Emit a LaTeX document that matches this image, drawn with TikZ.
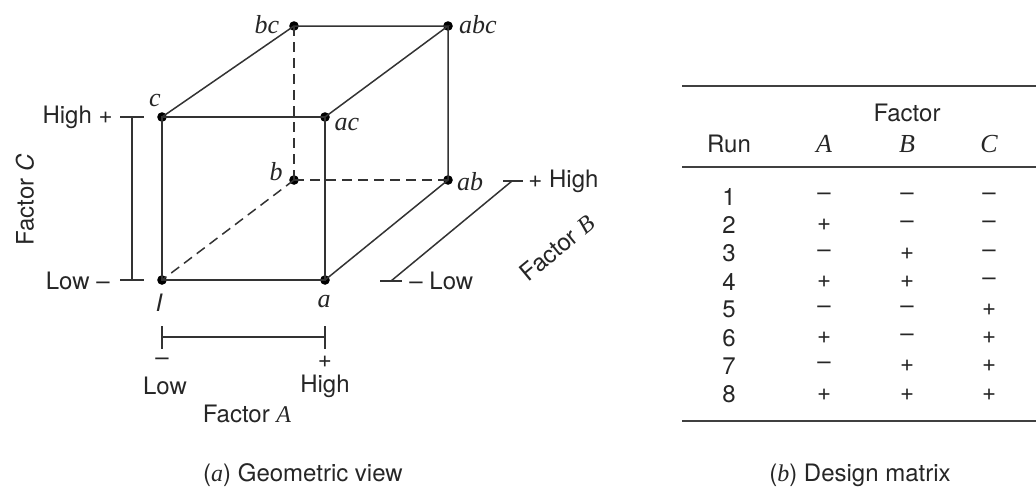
\documentclass[tikz,border=0pt]{standalone}
\usepackage{fontspec}
\setmainfont{TeX Gyre Heros}
\newfontfamily\tms{Liberation Serif}
\newcommand\fsz{\fontsize{12}{14}\selectfont}
\newcommand\fsl{\fontsize{13}{15}\selectfont}
\newcommand\vit[1]{{\tms\itshape #1}}
\begin{document}
\begin{tikzpicture}[x=0.5pt,y=-0.5pt,
  every node/.style={font=\fsz, text=black!85},
  edge/.style={draw=black!80, line width=0.75pt},
  hid/.style={edge, dash pattern=on 5pt off 3pt},
  pt/.style={circle, fill=black, inner sep=0pt, minimum size=4.8pt},
  lab/.style={font=\fsl\tms\itshape, inner sep=0pt},
  txt/.style={inner sep=0pt},
  rule/.style={draw=black!75, line width=0.8pt}]
\useasboundingbox (0,0) rectangle (1036,489);
% cube vertices
\node[pt] (o)   at (162,280) {};
\node[pt] (a)   at (325,280) {};
\node[pt] (c)   at (162,117) {};
\node[pt] (ac)  at (325,117) {};
\node[pt] (b)   at (294,180) {};
\node[pt] (ab)  at (448,180) {};
\node[pt] (bc)  at (294,26) {};
\node[pt] (abc) at (448,26) {};
% edges
\draw[edge] (o.center) -- (a.center) -- (ac.center) -- (c.center) -- cycle;
\draw[edge] (c.center) -- (bc.center) -- (abc.center) -- (ac.center);
\draw[edge] (abc.center) -- (ab.center) -- (a.center);
\draw[hid] (bc.center) -- (b.center);
\draw[hid] (b.center) -- (ab.center);
\draw[hid] (b.center) -- (o.center);
% vertex labels
\node[lab] (lc)   at (155,100) {c};
\node[lab] (lac)  at (347,124) {ac};
\node[lab] (lbc)  at (267,25) {bc};
\node[lab] (labc) at (478,25) {abc};
\node[lab] (lb)   at (276,172) {b};
\node[lab] (lab)  at (470,182) {ab};
\node[txt, font=\fsz\itshape] (lo) at (159,303) {I};
\node[lab] (la)   at (324,302) {a};
% Factor C scale
\coordinate (cT) at (132,117);
\coordinate (cB) at (132,280);
\coordinate (cTl) at (120,117);
\coordinate (cTr) at (144,117);
\coordinate (cBl) at (120,280);
\coordinate (cBr) at (144,280);
\draw[edge] (cT) -- (cB);
\draw[edge] (cTl) -- (cTr);
\draw[edge] (cBl) -- (cBr);
\node[txt, anchor=east] (chigh) at (113,117) {High +};
\node[txt, anchor=east] (clow) at (110,281) {Low –};
\node[txt, rotate=90] (fc) at (25,200) {Factor \textit{C}};
% Factor A scale
\coordinate (aL) at (162,337);
\coordinate (aR) at (325,337);
\coordinate (aLt) at (162,326);
\coordinate (aLb) at (162,349);
\coordinate (aRt) at (325,326);
\coordinate (aRb) at (325,349);
\draw[edge] (aL) -- (aR);
\draw[edge] (aLt) -- (aLb);
\draw[edge] (aRt) -- (aRb);
\node[txt] (am) at (162,362) {–};
\node[txt] (ap) at (325,362) {+};
\node[txt] (alow) at (165,386) {Low};
\node[txt] (ahigh) at (325,386) {High};
\node[txt] (fa) at (247,414) {Factor \vit{A}};
% Factor B scale
\coordinate (bL) at (391,281);
\coordinate (bH) at (512,181);
\coordinate (bLl) at (380,281);
\coordinate (bLr) at (402,281);
\coordinate (bHl) at (503,181);
\coordinate (bHr) at (523,181);
\draw[edge] (bL) -- (bH);
\draw[edge] (bLl) -- (bLr);
\draw[edge] (bHl) -- (bHr);
\node[txt, anchor=west] (blow) at (409,281) {– Low};
\node[txt, anchor=west] (bhigh) at (528,181) {+ High};
\node[txt, rotate=39.6] (fb) at (557,248) {Factor \vit{B}};
% captions
\node[txt] (capa) at (303,475) {(\vit{a}) Geometric view};
\node[txt] (capb) at (860,475) {(\vit{b}) Design matrix};
% table
\coordinate (r1l) at (682,86);  \coordinate (r1r) at (1036,86);
\coordinate (r2l) at (682,167); \coordinate (r2r) at (1036,167);
\coordinate (r3l) at (682,421); \coordinate (r3r) at (1036,421);
\draw[rule] (r1l) -- (r1r);
\draw[rule] (r2l) -- (r2r);
\draw[rule] (r3l) -- (r3r);
\node[txt] (hf) at (907,113) {Factor};
\node[txt] (hr) at (729,144) {Run};
\node[txt, font=\fsl\tms\itshape] (ha) at (824,144) {A};
\node[txt, font=\fsl\tms\itshape] (hb) at (907,144) {B};
\node[txt, font=\fsl\tms\itshape] (hc) at (989,144) {C};
\foreach \i/\sa/\sb/\sc in {1/–/–/–, 2/+/–/–, 3/–/+/–, 4/+/+/–, 5/–/–/+, 6/+/–/+, 7/–/+/+, 8/+/+/+}{
  \pgfmathsetmacro\yy{197+(\i-1)*28.2}
  \node[txt] (run\i) at (729,\yy) {\i};
  \node[txt] (ca\i) at (824,\yy) {\sa};
  \node[txt] (cb\i) at (907,\yy) {\sb};
  \node[txt] (cc\i) at (989,\yy) {\sc};
}
\end{tikzpicture}
\end{document}
